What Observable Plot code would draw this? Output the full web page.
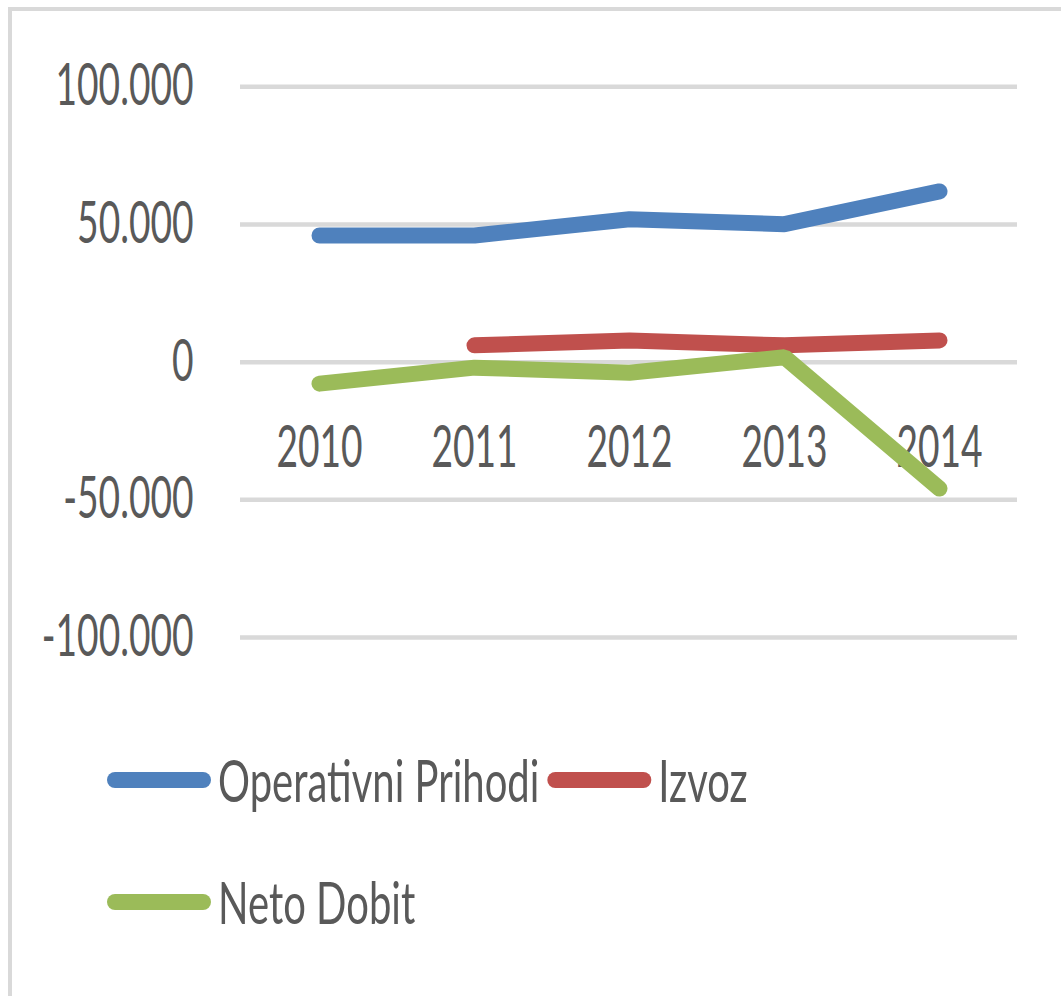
<!DOCTYPE html>
<html><head><meta charset="utf-8">
<script src="https://cdn.jsdelivr.net/npm/d3@7"></script>
<script src="https://cdn.jsdelivr.net/npm/@observablehq/plot@0.6"></script>
<style>
html,body{margin:0;padding:0;overflow:hidden;background:#fff;width:1061px;height:996px;}
#frame{position:absolute;left:8px;top:7px;width:1200px;height:1200px;border-top:4px solid #d9d9d9;border-left:4px solid #d9d9d9;z-index:2;pointer-events:none;}
#chart{position:absolute;left:0;top:0;}
#legend{position:absolute;left:0;top:700px;}
</style></head><body>
<div id="chart"></div><div id="legend"></div><div id="frame"></div>
<script>
const years = ["2010", "2011", "2012", "2013", "2014"];
const operativniPrihodi = [46000, 46000, 51900, 50100, 62000];
const izvoz = [null, 6100, 7900, 6100, 7900];
const netoDobit = [-7800, -2000, -3850, 1800, -45900];
const seriesNames = ["Operativni Prihodi", "Izvoz", "Neto Dobit"];
const seriesColors = ["#4F81BD", "#C0504D", "#9BBB59"];
const yTicks = [-100000, -50000, 0, 50000, 100000];

const FONT = "Lato, 'Open Sans', sans-serif";
const FS = 58;
const SX = 0.64;
const SX_LEGEND = 0.69;
const TEXT = "#595959";

const rows = [];
[operativniPrihodi, izvoz, netoDobit].forEach((vals, s) =>
  years.forEach((yr, i) => { if (vals[i] != null) rows.push({series: seriesNames[s], year: yr, value: vals[i]}); }));

const fmt = d3.formatLocale({decimal: ",", thousands: ".", grouping: [3], currency: ["", ""], minus: "-"}).format(",d");

const chart = Plot.plot({
  width: 1061, height: 700,
  marginLeft: 240, marginRight: 44, marginTop: 86.3, marginBottom: 63,
  style: {fontFamily: FONT, fontSize: FS + "px", color: TEXT, background: "transparent", overflow: "visible"},
  x: {type: "point", domain: years, padding: 0.5, axis: null},
  y: {domain: [-100000, 100000], axis: null},
  color: {domain: seriesNames, range: seriesColors},
  marks: [
    Plot.gridY(yTicks, {stroke: "#d9d9d9", strokeOpacity: 1, strokeWidth: 4.5}),
    Plot.axisY(yTicks, {tickFormat: fmt, tickSize: 0, tickPadding: 47, fill: TEXT, label: null, fontSize: FS}),
    Plot.text(years, {x: d => d, y: () => 0, dy: 86, fill: TEXT, fontSize: FS}),
    Plot.line(rows, {x: "year", y: "value", z: "series", stroke: "series", strokeWidth: 16,
      strokeLinecap: "round", strokeLinejoin: "miter"})
  ]
});
document.getElementById("chart").appendChild(chart);
chart.querySelectorAll("text").forEach(el => {
  const t = el.getAttribute("transform") || "";
  el.setAttribute("transform", `${t} scale(${SX},1)`);
});

// legend
const lg = d3.select("#legend").append("svg")
  .attr("width", 1061).attr("height", 296)
  .style("font-family", FONT).style("font-size", FS + "px");
const rowsY = [80, 202];
const items = [
  {name: seriesNames[0], color: seriesColors[0], row: 0},
  {name: seriesNames[1], color: seriesColors[1], row: 0},
  {name: seriesNames[2], color: seriesColors[2], row: 1}
];
let cursor = [107, 107];
items.forEach(it => {
  const x0 = cursor[it.row];
  const yc = rowsY[it.row];
  lg.append("line").attr("x1", x0 + 8).attr("x2", x0 + 96).attr("y1", yc).attr("y2", yc)
    .attr("stroke", it.color).attr("stroke-width", 16).attr("stroke-linecap", "round");
  const tx = lg.append("text").attr("fill", TEXT)
    .attr("transform", `translate(${x0 + 111},${yc + 21.5}) scale(${SX_LEGEND},1)`).text(it.name);
  const w = tx.node().getComputedTextLength() * SX_LEGEND;
  cursor[it.row] = x0 + 111 + w + 8;
});
</script>
</body></html>
